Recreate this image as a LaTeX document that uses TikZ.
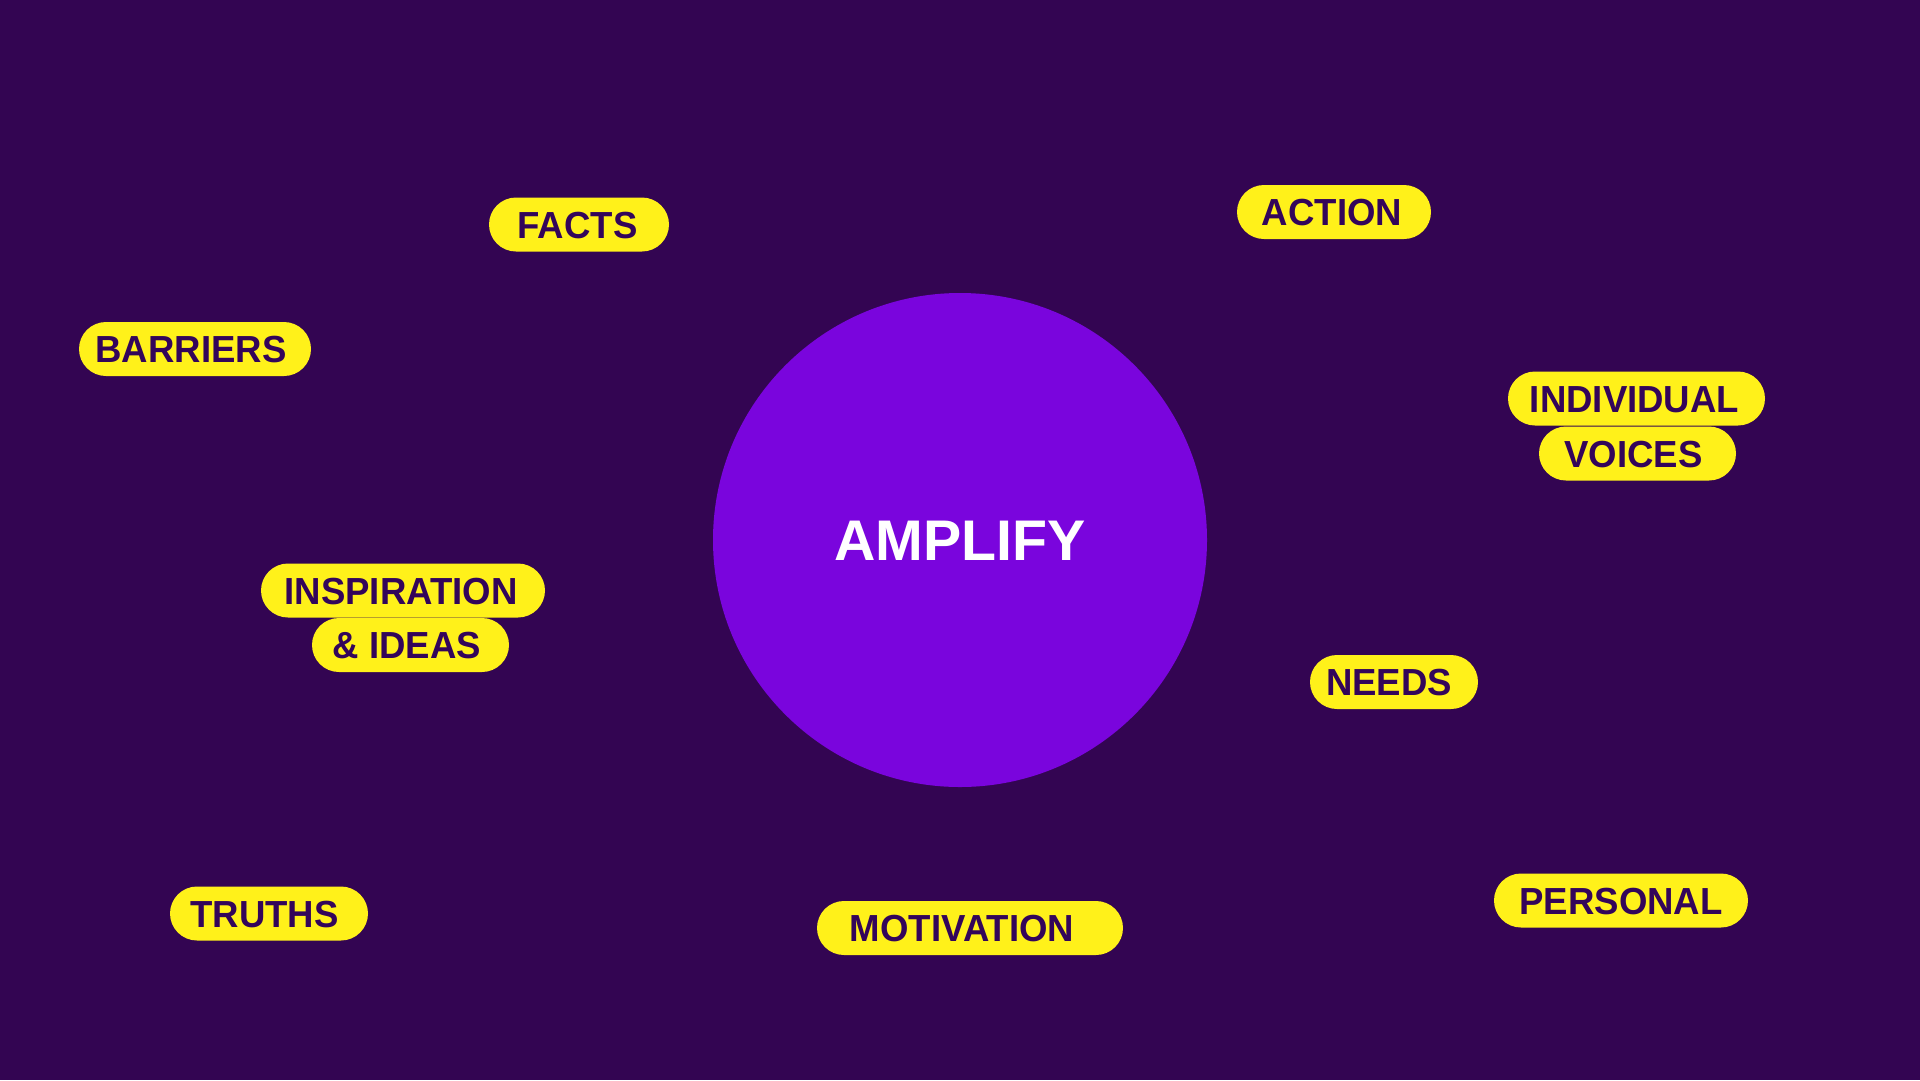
\documentclass[tikz,border=0pt]{standalone}
\usepackage{fontspec}
\setmainfont{Liberation Sans}
\newfontfamily\pillfont[FakeStretch=0.97]{Liberation Sans}
\definecolor{bgpurple}{HTML}{330552}
\definecolor{circpurple}{HTML}{7A05DD}
\definecolor{pillyellow}{HTML}{FFF11A}
\definecolor{pilltext}{HTML}{33055A}
\newcommand\padr[2]{#1\kern#2pt}
\tikzset{
  pill/.style={fill=pillyellow, text=pilltext, inner sep=0pt,
    minimum height=54pt, rounded corners=27pt,
    text height=27pt, text depth=0pt,
    font=\pillfont\bfseries\fontsize{37.7}{40}\selectfont},
  hub/.style={circle, fill=circpurple, text=white, inner sep=0pt,
    minimum size=494pt, text height=41pt, text depth=0pt,
    font=\bfseries\fontsize{57.3}{60}\selectfont}
}
\begin{document}
\begin{tikzpicture}[x=1pt,y=-1pt]
\fill[bgpurple] (0,0) rectangle (1920,1080);
\useasboundingbox (0,0) rectangle (1920,1080);
\node[hub] (amplify) at (960,540) {AMPLIFY};
\node[pill, minimum width=180pt] (facts) at (579,224.5) {\padr{FACTS}{3}};
\node[pill, minimum width=232pt] (barriers) at (195,349) {\padr{BARRIERS}{8}};
\node[pill, minimum width=284pt] (inspiration) at (403,590.5) {\padr{INSPIRATION}{4}};
\node[pill, minimum width=197pt] (ideas) at (410.5,645) {\padr{\& IDEAS}{7}};
\node[pill, minimum width=257pt] (individual) at (1636.5,398.5) {\padr{INDIVIDUAL}{4}};
\node[pill, minimum width=197pt] (voices) at (1637.5,453.5) {\padr{VOICES}{8}};
\node[pill, minimum width=306pt] (motivation) at (970,928) {\padr{MOTIVATION}{16}};
\node[pill, minimum width=194pt] (action) at (1334,212) {\padr{ACTION}{4}};
\node[pill, minimum width=168pt] (needs) at (1394,682) {\padr{NEEDS}{10}};
\node[pill, minimum width=254pt] (personal) at (1621,900.5) {PERSONAL};
\node[pill, minimum width=198pt] (truths) at (269,913.5) {\padr{TRUTHS}{9}};
\end{tikzpicture}
\end{document}
